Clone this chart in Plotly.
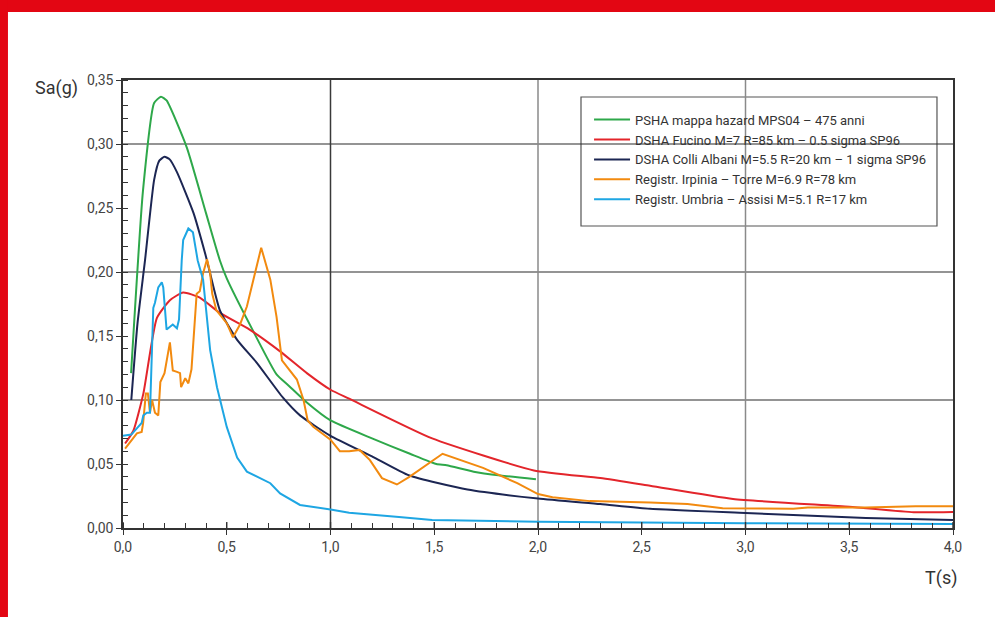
import plotly.graph_objects as go

# ---------------- data ----------------
green_T = [0.039, 0.096, 0.15, 0.183, 0.21, 0.308, 0.40, 0.467, 0.50, 0.63, 0.74, 0.80, 0.886,
           1.0, 1.2, 1.383, 1.51, 1.56, 1.69, 1.82, 1.99]
green_Sa = [0.121, 0.263, 0.332, 0.337, 0.334, 0.297, 0.246, 0.209, 0.195, 0.153, 0.120, 0.111, 0.098,
            0.084, 0.070, 0.058, 0.050, 0.049, 0.044, 0.041, 0.038]

red_T = [0.01, 0.05, 0.098, 0.163, 0.226, 0.29, 0.37, 0.467, 0.61, 0.757, 0.886, 1.0, 1.09,
         1.49, 1.98, 2.30, 2.54, 2.94, 3.5, 3.81, 4.0]
red_Sa = [0.066, 0.076, 0.105, 0.164, 0.178, 0.184, 0.180, 0.168, 0.155, 0.138, 0.121, 0.108, 0.101,
          0.070, 0.045, 0.039, 0.033, 0.0227, 0.0166, 0.0123, 0.0125]

navy_T = [0.04, 0.07, 0.106, 0.15, 0.175, 0.20, 0.225, 0.26, 0.34, 0.40, 0.467, 0.55, 0.645, 0.77,
          0.853, 1.0, 1.2, 1.38, 1.66, 2.0, 2.3, 2.54, 3.0, 3.58, 4.0]
navy_Sa = [0.100, 0.160, 0.209, 0.272, 0.287, 0.290, 0.288, 0.278, 0.246, 0.212, 0.170, 0.147, 0.129,
           0.102, 0.088, 0.072, 0.056, 0.041, 0.030, 0.023, 0.0187, 0.015, 0.0117, 0.0078, 0.0062]

orange_T = [0.01, 0.067, 0.09, 0.097, 0.11, 0.12, 0.13, 0.14, 0.154, 0.17, 0.18, 0.20, 0.226, 0.24,
            0.26, 0.275, 0.28, 0.30, 0.315, 0.33, 0.355, 0.37, 0.386, 0.405, 0.42, 0.43, 0.45, 0.50,
            0.53, 0.564, 0.597, 0.627, 0.666, 0.71, 0.74, 0.766, 0.79, 0.838, 0.87, 0.89, 0.917, 1.0,
            1.045, 1.09, 1.14, 1.19, 1.248, 1.32, 1.38, 1.54, 1.735, 1.90, 2.0, 2.07, 2.25, 2.54,
            2.72, 2.89, 3.23, 3.30, 3.58, 3.82, 4.0]
orange_Sa = [0.062, 0.074, 0.075, 0.082, 0.105, 0.105, 0.090, 0.100, 0.090, 0.088, 0.114, 0.121, 0.145,
             0.123, 0.122, 0.121, 0.110, 0.117, 0.113, 0.124, 0.183, 0.185, 0.199, 0.210, 0.199, 0.183,
             0.170, 0.160, 0.149, 0.159, 0.173, 0.194, 0.219, 0.194, 0.165, 0.131, 0.126, 0.116, 0.100,
             0.084, 0.079, 0.069, 0.060, 0.060, 0.061, 0.053, 0.039, 0.034, 0.040, 0.058, 0.047, 0.035,
             0.0265, 0.024, 0.021, 0.020, 0.0187, 0.0154, 0.015, 0.016, 0.016, 0.017, 0.017]

cyan_T = [0.0, 0.04, 0.073, 0.09, 0.098, 0.115, 0.13, 0.146, 0.154, 0.17, 0.187, 0.194, 0.21, 0.24,
          0.26, 0.27, 0.283, 0.29, 0.315, 0.337, 0.36, 0.386, 0.42, 0.453, 0.50, 0.55, 0.597, 0.66,
          0.71, 0.757, 0.853, 1.0, 1.09, 1.33, 1.49, 2.0, 2.54, 3.0, 4.0]
cyan_Sa = [0.072, 0.073, 0.079, 0.082, 0.088, 0.090, 0.090, 0.172, 0.176, 0.188, 0.192, 0.188, 0.155,
           0.159, 0.156, 0.163, 0.209, 0.225, 0.234, 0.231, 0.209, 0.194, 0.139, 0.110, 0.079, 0.055,
           0.044, 0.039, 0.035, 0.027, 0.018, 0.0145, 0.012, 0.0086, 0.0063, 0.0049, 0.004, 0.0037,
           0.0032]

series_names = [
    "PSHA mappa hazard MPS04 – 475 anni",
    "DSHA Fucino M=7 R=85 km – 0.5 sigma SP96",
    "DSHA Colli Albani M=5.5 R=20 km – 1 sigma SP96",
    "Registr. Irpinia – Torre M=6.9 R=78 km",
    "Registr. Umbria – Assisi M=5.1 R=17 km",
]
colors = ["#2ea84a", "#e3252b", "#1c2653", "#f28a0f", "#1ea6e3"]

x_grid = [1.0, 2.0, 3.0]
y_grid = [0.1, 0.2, 0.3]
x_major = [0.0, 0.5, 1.0, 1.5, 2.0, 2.5, 3.0, 3.5, 4.0]

# ---------------- figure ----------------
fig = go.Figure()
data = [(green_T, green_Sa, "spline"), (red_T, red_Sa, "spline"), (navy_T, navy_Sa, "spline"),
        (orange_T, orange_Sa, "linear"), (cyan_T, cyan_Sa, "linear")]
for (t, s, shp), name, c in zip(data, series_names, colors):
    line = dict(color=c, width=2, shape=shp)
    if shp == "spline":
        line["smoothing"] = 0.5
    fig.add_trace(go.Scatter(x=t, y=s, mode="lines", name=name, line=line))

shapes = []
for g in y_grid:
    shapes.append(dict(type="line", xref="x", yref="y", x0=0, x1=4, y0=g, y1=g,
                       line=dict(color="#2b2b2b", width=1.2), layer="below"))
for g in x_grid:
    shapes.append(dict(type="line", xref="x", yref="y", x0=g, x1=g, y0=0, y1=0.35,
                       line=dict(color="#3a3a3a" if g == 1.0 else "#8a8a8a", width=1.5), layer="below"))
# inner half of the major x ticks (ticks cross the axis)
for g in x_major:
    shapes.append(dict(type="line", xref="x", yref="paper", x0=g, x1=g, y0=0, y1=6 / 448,
                       line=dict(color="#333333", width=1.4), layer="above"))
# legend box
shapes.append(dict(type="rect", xref="paper", yref="paper", x0=0.5518, x1=0.9807, y0=0.6741, y1=0.9621,
                   line=dict(color="#555555", width=1.2), fillcolor="white", layer="below"))
# red frame bands
shapes.append(dict(type="rect", xref="paper", yref="paper", x0=-0.2, x1=1.1, y0=1.1518, y1=1.25,
                   line=dict(width=0), fillcolor="#e30613", layer="above"))
shapes.append(dict(type="rect", xref="paper", yref="paper", x0=-0.2, x1=-0.1386, y0=-0.25, y1=1.25,
                   line=dict(width=0), fillcolor="#e30613", layer="above"))

fig.update_layout(
    width=995, height=617,
    margin=dict(l=123, r=42, t=80, b=89),
    paper_bgcolor="white", plot_bgcolor="white",
    separators=",.",
    font=dict(family="Roboto, sans-serif", size=13, color="#3a3a3a"),
    shapes=shapes,
    showlegend=True,
    legend=dict(x=0.5615, y=0.945, xanchor="left", yanchor="top", bgcolor="rgba(0,0,0,0)",
                borderwidth=0, font=dict(size=13, color="#333333"), tracegroupgap=0,
                itemwidth=36),
    annotations=[
        dict(text="Sa(g)", xref="paper", yref="paper", x=-0.0807, y=0.982, xanchor="center",
             yanchor="middle", showarrow=False, font=dict(size=18, color="#333333")),
        dict(text="T(s)", xref="paper", yref="paper", x=0.9855, y=-0.112, xanchor="center",
             yanchor="middle", showarrow=False, font=dict(size=18, color="#333333")),
    ],
    xaxis=dict(range=[0, 4], tickmode="linear", tick0=0, dtick=0.5, tickformat=".1f",
               showgrid=False, zeroline=False, showline=True, linecolor="#333333", linewidth=1.5,
               mirror=True, ticks="outside", ticklen=5, tickcolor="#333333", tickwidth=1.4,
               tickfont=dict(size=14, color="#444444"),
               minor=dict(dtick=0.1, ticks="inside", ticklen=5, tickcolor="#333333", showgrid=False)),
    yaxis=dict(range=[0, 0.35], tickmode="linear", tick0=0, dtick=0.05, tickformat=".2f",
               showgrid=False, zeroline=False, showline=True, linecolor="#333333", linewidth=1.5,
               mirror=True, ticks="outside", ticklen=5, tickcolor="#333333", tickwidth=1.2,
               tickfont=dict(size=14, color="#444444"),
               minor=dict(dtick=0.01, ticks="inside", ticklen=5, tickcolor="#333333", showgrid=False)),
)

fig.write_html("out.html")
